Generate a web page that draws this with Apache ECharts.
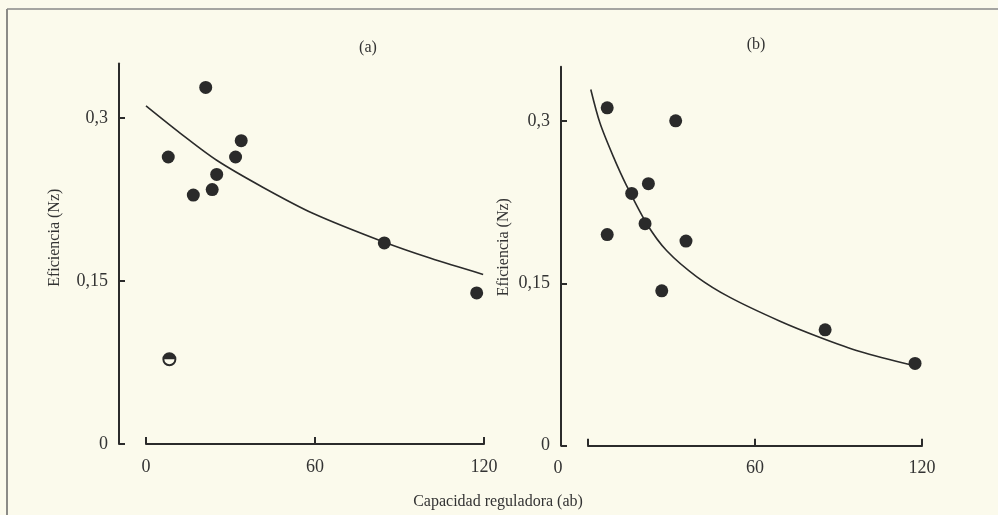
<!DOCTYPE html>
<html>
<head>
<meta charset="utf-8">
<script src="https://cdn.jsdelivr.net/npm/echarts@6/dist/echarts.min.js"></script>
<style>
html,body{margin:0;padding:0;background:#fbfaec;}
#c{width:998px;height:515px;}
</style>
</head>
<body>
<div id="c"></div>
<script>
// ---- data ----
const xTicks = [0, 60, 120];
const yTicks = [0, 0.15, 0.3];
const yTickLabels = ['0', '0,15', '0,3'];

// panel (a)
const aX = [7.9, 16.8, 21.2, 23.5, 25.1, 31.8, 33.8, 84.6, 117.4];
const aY = [0.264, 0.229, 0.328, 0.234, 0.248, 0.264, 0.279, 0.185, 0.139];
const aOpenX = [8.3];
const aOpenY = [0.078];
const aCurveX = [0, 12.1, 25.1, 41.6, 59.4, 84.2, 100.8, 119.7];
const aCurveY = [0.311, 0.286, 0.261, 0.236, 0.212, 0.186, 0.171, 0.156];

// panel (b)
const bX = [6.9, 31.5, 21.7, 15.7, 20.5, 6.9, 35.2, 26.5, 85.2, 117.5];
const bY = [0.312, 0.300, 0.242, 0.233, 0.205, 0.195, 0.189, 0.143, 0.107, 0.076];
const bCurveX = [1.0, 4.3, 9.1, 13.9, 21.1, 28.3, 39.1, 51.0, 69.0, 83.4, 97.7, 117];
const bCurveY = [0.329, 0.298, 0.267, 0.240, 0.205, 0.180, 0.156, 0.137, 0.115, 0.100, 0.087, 0.074];

const panelTitles = ['(a)', '(b)'];
const yName = 'Eficiencia (Nz)';
const xName = 'Capacidad reguladora (ab)';

// ---- chart ----
const ink = '#2b2b2b';
const textInk = '#333333';
const serif = '"Liberation Serif", "DejaVu Serif", serif';
const zip = (xs, ys) => xs.map((x, i) => [x, ys[i]]);
const halfSymbol = 'path://M-1,0A1,1,0,0,1,1,0A1,1,0,0,1,-1,0ZM-0.72,0A0.72,0.72,0,0,0,0.72,0Z';

function xAxisFor(gi, shiftZero) {
  return {
    type: 'value', gridIndex: gi, min: 0, max: 120, interval: 60,
    axisLine: {show: true, onZero: false, lineStyle: {color: ink, width: 2}},
    axisTick: {show: true, inside: true, length: 7, customValues: xTicks, lineStyle: {color: ink, width: 2}},
    splitLine: {show: false},
    axisLabel: {
      margin: 14, color: textInk, fontFamily: serif, fontSize: 18, customValues: xTicks,
      formatter: v => (shiftZero && v === 0) ? '{z|0}' : String(v),
      rich: {z: {padding: [0, 60, 0, 0], color: textInk, fontFamily: serif, fontSize: 18}}
    }
  };
}
function yAxisFor(gi, gap, pad) {
  return {
    type: 'value', gridIndex: gi, min: 0, max: 0.35, interval: 0.15, offset: 27,
    axisLine: {show: true, onZero: false, lineStyle: {color: ink, width: 2}},
    axisTick: {show: true, inside: true, length: 6, customValues: yTicks, lineStyle: {color: ink, width: 2}},
    splitLine: {show: false},
    axisLabel: {
      margin: 11, color: textInk, fontFamily: serif, fontSize: 18, customValues: yTicks,
      formatter: v => { const i = yTicks.findIndex(t => Math.abs(t - v) < 1e-9); return i >= 0 ? yTickLabels[i] : ''; }
    },
    name: yName, nameLocation: 'middle', nameGap: gap, nameRotate: 90,
    nameTextStyle: {color: textInk, fontFamily: serif, fontSize: 16, padding: pad}
  };
}

const dotStyle = {color: '#2a2a2a', opacity: 1};

const option = {
  backgroundColor: '#fbfaec',
  animation: false,
  grid: [
    {left: 146, top: 63.5, width: 338, height: 380.5},
    {left: 588, top: 66.7, width: 334, height: 379}
  ],
  xAxis: [xAxisFor(0, false), xAxisFor(1, true)],
  yAxis: [yAxisFor(0, 56, [0, 0, 0, 32]), yAxisFor(1, 49, [0, 0, 0, 18])],
  series: [
    {type: 'line', xAxisIndex: 0, yAxisIndex: 0, data: zip(aCurveX, aCurveY), smooth: 0.3,
     showSymbol: false, lineStyle: {color: ink, width: 1.6}, z: 2},
    {type: 'scatter', xAxisIndex: 0, yAxisIndex: 0, data: zip(aX, aY), z: 3,
     symbol: 'circle', symbolSize: 13, itemStyle: dotStyle},
    {type: 'scatter', xAxisIndex: 0, yAxisIndex: 0, data: zip(aOpenX, aOpenY), z: 3,
     symbol: halfSymbol, symbolSize: 14, itemStyle: dotStyle},
    {type: 'line', xAxisIndex: 1, yAxisIndex: 1, data: zip(bCurveX, bCurveY), smooth: 0.3,
     showSymbol: false, lineStyle: {color: ink, width: 1.6}, z: 2},
    {type: 'scatter', xAxisIndex: 1, yAxisIndex: 1, data: zip(bX, bY), z: 3,
     symbol: 'circle', symbolSize: 13, itemStyle: dotStyle}
  ],
  graphic: [
    {type: 'line', shape: {x1: 7, y1: 9, x2: 7, y2: 515}, style: {stroke: '#666', lineWidth: 1.5}},
    {type: 'line', shape: {x1: 7, y1: 9, x2: 998, y2: 9}, style: {stroke: '#888', lineWidth: 1.5}},
    {type: 'text', x: 368, y: 48, style: {text: panelTitles[0], font: '16px ' + serif, fill: textInk, align: 'center', verticalAlign: 'middle'}},
    {type: 'text', x: 756, y: 45, style: {text: panelTitles[1], font: '16px ' + serif, fill: textInk, align: 'center', verticalAlign: 'middle'}},
    {type: 'text', x: 498, y: 502, style: {text: xName, font: '16px ' + serif, fill: textInk, align: 'center', verticalAlign: 'middle'}}
  ]
};

const chart = echarts.init(document.getElementById('c'), null, {renderer: 'canvas'});
chart.setOption(option);
</script>
</body>
</html>
